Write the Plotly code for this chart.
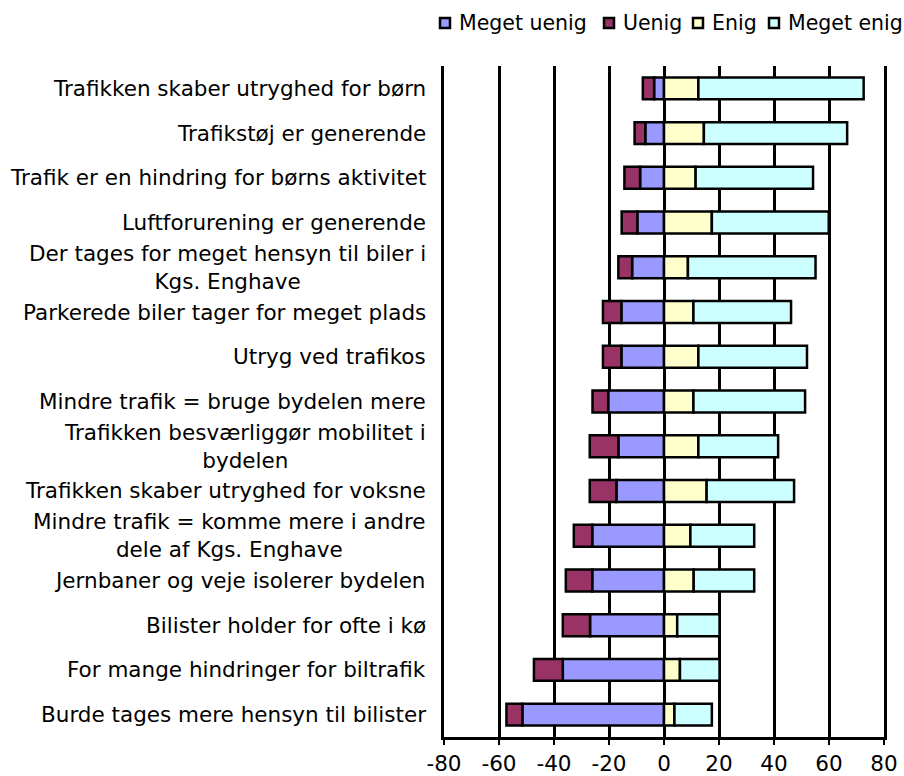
import plotly.graph_objects as go

categories = [
    "Trafikken skaber utryghed for børn",
    "Trafikstøj er generende",
    "Trafik er en hindring for børns aktivitet",
    "Luftforurening er generende",
    "Der tages for meget hensyn til biler i<br>Kgs. Enghave",
    "Parkerede biler tager for meget plads",
    "Utryg ved trafikos",
    "Mindre trafik = bruge bydelen mere",
    "Trafikken besværliggør mobilitet i<br>bydelen",
    "Trafikken skaber utryghed for voksne",
    "Mindre trafik = komme mere i andre<br>dele af Kgs. Enghave",
    "Jernbaner og veje isolerer bydelen",
    "Bilister holder for ofte i kø",
    "For mange hindringer for biltrafik",
    "Burde tages mere hensyn til bilister",
]

meget_uenig = [3.6, 6.8, 8.7, 9.7, 11.6, 15.5, 15.5, 20.3, 16.6, 17.3, 26.1, 26.1, 26.9, 36.8, 51.5]
uenig = [4.1, 3.9, 5.7, 5.7, 5.0, 6.7, 6.7, 5.7, 10.4, 9.7, 6.7, 9.6, 9.9, 10.5, 5.8]
enig = [12.5, 14.5, 11.5, 17.4, 8.7, 10.7, 12.5, 10.7, 12.5, 15.5, 9.6, 10.8, 4.8, 5.8, 3.8]
meget_enig = [60.1, 52.1, 42.7, 42.5, 46.4, 35.5, 39.5, 40.6, 29.0, 31.8, 23.2, 22.0, 15.4, 14.4, 13.6]

series_names = ["Meget uenig", "Uenig", "Enig", "Meget enig"]
colors = ["#9999FF", "#993366", "#FFFFCC", "#CCFFFF"]
tick_vals = [-80, -60, -40, -20, 0, 20, 40, 60, 80]

FONT = "DejaVu Sans"
FS = 21.5
LFS = 20.5

W, H = 904, 776
ML, MR, MT, MB = 444, 20, 66, 39
PW, PH = W - ML - MR, H - MT - MB

# legend layout (pixel positions of each symbol's left edge)
legend_sym_x = [439, 603, 692, 768]
legend_y_px = 23
sym = 12


def px_x(p):
    return (p - ML) / PW


def px_y(p):
    return (H - MB - p) / PH


fig = go.Figure()
data_sets = [
    [-v for v in meget_uenig],
    [-v for v in uenig],
    enig,
    meget_enig,
]
for name, vals, col in zip(series_names, data_sets, colors):
    fig.add_trace(go.Bar(
        y=categories, x=vals, name=name, orientation="h",
        marker=dict(color=col, line=dict(color="black", width=2.5)),
        showlegend=False, hoverinfo="skip",
    ))

for cat in categories:
    fig.add_annotation(
        x=0, xref="paper", y=cat, yref="y", text=cat,
        xanchor="right", yanchor="middle", align="center",
        xshift=-16, showarrow=False,
        font=dict(family=FONT, size=FS, color="#000000"),
    )

# manual legend
for name, col, sx in zip(series_names, colors, legend_sym_x):
    fig.add_shape(
        type="rect", xref="paper", yref="paper",
        x0=px_x(sx + 1), x1=px_x(sx + sym - 1),
        y0=px_y(legend_y_px + sym / 2 - 1), y1=px_y(legend_y_px - sym / 2 + 1),
        fillcolor=col, line=dict(color="black", width=2.5),
    )
    fig.add_annotation(
        x=px_x(sx + sym + 6), xref="paper", y=px_y(legend_y_px), yref="paper",
        text=name, xanchor="left", yanchor="middle", showarrow=False,
        font=dict(family=FONT, size=LFS, color="#000000"),
    )

fig.update_layout(
    width=W, height=H,
    barmode="relative", bargap=0.51,
    plot_bgcolor="white", paper_bgcolor="white",
    margin=dict(l=ML, r=MR, t=MT, b=MB),
    font=dict(family=FONT, size=FS, color="#000000"),
    showlegend=False,
)
fig.update_xaxes(
    range=[-80, 80], tickvals=tick_vals, ticktext=[str(v) for v in tick_vals],
    showgrid=True, gridcolor="black", gridwidth=2.5,
    zeroline=True, zerolinecolor="black", zerolinewidth=2.5,
    showline=True, linecolor="black", linewidth=2.5,
    ticks="outside", ticklen=5, tickwidth=2, tickcolor="black",
    tickfont=dict(family=FONT, size=FS, color="#000000"),
    automargin=False, fixedrange=True,
)
fig.update_yaxes(
    autorange="reversed", showticklabels=False, showgrid=False,
    showline=True, mirror=True, linecolor="black", linewidth=2.5,
    zeroline=False, automargin=False, fixedrange=True,
)

fig.write_html(
    "out.html",
    config={"displayModeBar": False},
    post_script="document.body.style.margin='0';document.body.style.padding='0';",
)
